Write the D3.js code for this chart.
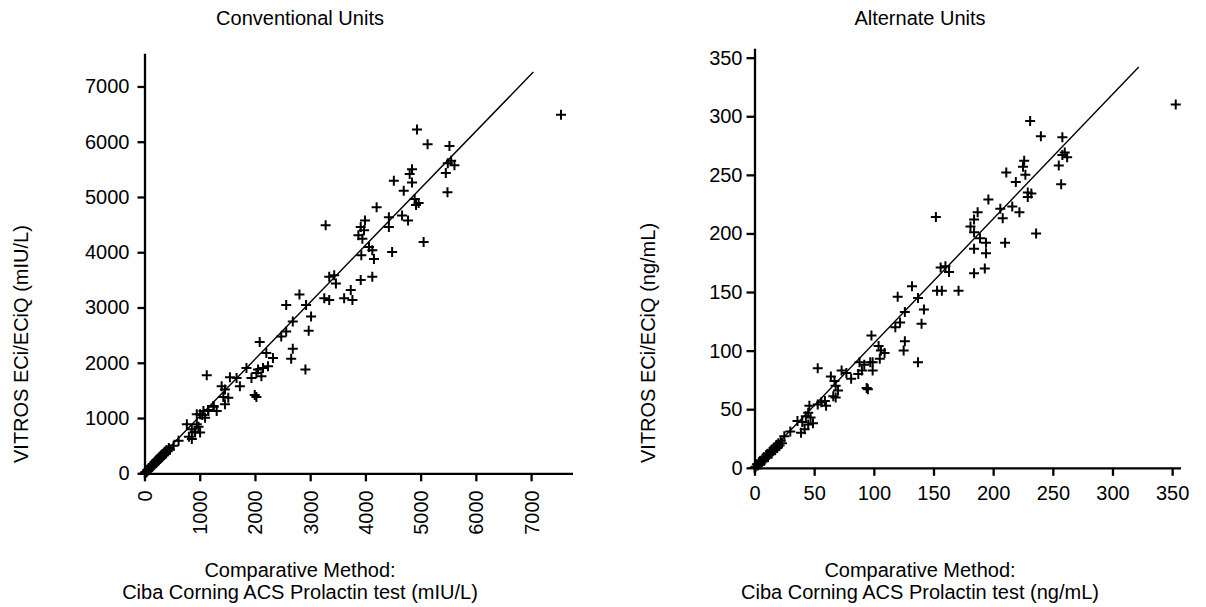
<!DOCTYPE html>
<html>
<head>
<meta charset="utf-8">
<script src="https://cdn.jsdelivr.net/npm/d3@7"></script>
<style>
  body { margin: 0; background: #fff; }
  text { font-family: "Liberation Sans", Arial, sans-serif; fill: #000; }
</style>
</head>
<body>
<script>
// panel titles and axis labels
const titles = ["Conventional Units", "Alternate Units"];
const yLabels = ["VITROS ECi/ECiQ (mIU/L)", "VITROS ECi/ECiQ (ng/mL)"];
const xLabelLine1 = "Comparative Method:";
const xLabels = ["Ciba Corning ACS Prolactin test (mIU/L)", "Ciba Corning ACS Prolactin test (ng/mL)"];

// tick values
const convTicks = [0, 1000, 2000, 3000, 4000, 5000, 6000, 7000];
const altTicks = [0, 50, 100, 150, 200, 250, 300, 350];

// regression line end points [comparative, vitros]
const convFit = [[0, 0], [7040, 7260]];
const altFit = [[0, 0], [322, 342]];

// points: [comparative method, VITROS]
const convPoints = [
  [7542,6488],[4934,6223],[5126,5953],[5522,5924],[5552,5655],[5612,5576],[5492,5612],[5456,5432],
  [5486,5085],[4844,5504],[4802,5414],[4844,5264],[4515,5295],[4694,5115],[4892,4964],[4916,4856],
  [4964,4892],[4203,4815],[4425,4635],[4664,4666],[4772,4576],[4425,4455],[3993,4576],[3915,4455],
  [3975,4396],[3873,4306],[3945,4245],[5054,4185],[4065,4095],[4125,4036],[4484,4005],[3926,3946],
  [4155,3879],[4125,3556],[3915,3497],[3280,4490],
  [3345,3556],[3435,3586],[3466,3435],[3735,3317],[3765,3137],[3615,3166],[3255,3166],[3345,3137],
  [2806,3237],[2566,3047],[2926,3047],[3016,2836],[2973,2579],[2685,2746],[2566,2566],[2476,2477],
  [2685,2255],[2656,2075],[2914,1878],[2086,2374],[2206,2176],[2326,2086],[2236,1937],[2146,1906],
  [2056,1878],[1846,1906],[1937,1726],[2117,1757],[2026,1816],[1727,1577],[1667,1726],[1547,1739],
  [1996,1416],[2026,1380],[1127,1775],[1397,1577],[1457,1518],[1427,1380],[1457,1248],[1517,1367],
  [1247,1218],[1157,1128],[1067,1128],[1007,1068],[947,1068],[1097,1007],[947,888],[767,888],
  [857,799],[917,738],[857,619],[1007,738],[1307,1128],[617,588],[527,498],
  [804,662],[909,752],[978,843],[1047,1054],[1150,1145],[1254,1204],
  [20,25],[40,30],[50,60],[60,45],[75,80],[80,60],[95,100],[100,85],[110,130],[120,105],
  [130,140],[140,120],[150,170],[160,150],[175,180],[180,160],[190,210],[200,185],[210,230],[220,200],
  [230,250],[240,220],[250,270],[260,240],[270,290],[280,260],[290,310],[300,280],[310,330],[320,300],
  [330,350],[340,320],[350,370],[360,340],[380,400],[390,360],[400,420],[420,400],[440,460],[460,430],
  [10,10],[30,15],[5,0]
];

const altPoints = [
  [353,310],[231,296],[240,283],[258,282],[260,269],[258,267],[262,265],[255,258],[257,242],[226,262],
  [225,257],[227,250],[211,252],[219,244],[229,235],[232,234],[229,231],[196,229],[206,221],[216,223],
  [222,218],[208,213],[152,214],[187,218],[184,212],[181,206],[184,201],[189,196],[194,192],[184,187],
  [194,183],[210,192],[236,200],[193,170],[184,166],[160,172],[156,171],[163,167],
  [153,151],[157,151],[171,151],[132,155],[120,146],[137,145],[142,135],[140,123],[126,133],[122,124],
  [118,120],[126,108],[125,100],[137,90],[98,113],[104,104],[106,100],[109,98],[105,93],[99,90],
  [99,83],[97,90],[92,88],[88,90],[90,83],[87,80],[81,76],[77,81],[73,83],[53,85],
  [94,68],[95,67],[64,78],[67,74],[68,70],[70,66],[68,60],[66,61],[59,57],[56,56],
  [60,53],[53,54],[46,53],[45,47],[43,44],[47,43],[40,39],[36,40],[45,37],[42,33],
  [39,30],[49,38],[30,31],[25,27],
  [0,0],[1,1],[2,3],[3,2],[4,5],[5,3],[5,6],[6,5],[7,8],[8,6],[8,9],[9,8],[10,11],[11,9],
  [11,12],[12,11],[13,14],[14,12],[14,15],[15,14],[16,17],[17,15],[18,19],[19,17],[20,21],[21,19],
  [22,23],[23,21]
];

const svg = d3.select("body").append("svg")
  .attr("width", 1206)
  .attr("height", 607);

const FONT = 20;

function drawPanel(p) {
  const x = d3.scaleLinear().domain(p.xDomain).range(p.xRange);
  const y = d3.scaleLinear().domain(p.yDomain).range(p.yRange);
  const g = svg.append("g");

  // axes
  const xAxis = g.append("g")
    .attr("transform", `translate(0, ${p.yRange[0]})`)
    .call(d3.axisBottom(x).tickValues(p.ticks).tickFormat(d3.format("d"))
      .tickSize(8).tickSizeOuter(0).tickPadding(p.xPad));
  const yAxis = g.append("g")
    .attr("transform", `translate(${p.xRange[0]}, 0)`)
    .call(d3.axisLeft(y).tickValues(p.ticks).tickFormat(d3.format("d"))
      .tickSize(p.yTick).tickSizeOuter(0).tickPadding(p.yPad));

  [xAxis, yAxis].forEach(a => {
    a.select(".domain").attr("stroke", "#000").attr("stroke-width", 2.3);
    a.selectAll(".tick line").attr("stroke", "#000").attr("stroke-width", 2.3);
    a.selectAll("text").attr("font-size", FONT).attr("font-family", "Liberation Sans, Arial, sans-serif").attr("fill", "#000");
  });

  if (p.rotateX) {
    xAxis.selectAll(".tick text")
      .attr("transform", "rotate(-90)")
      .attr("x", -(8 + p.xPad))
      .attr("y", 0)
      .attr("dy", "0.35em")
      .style("text-anchor", "end");
  }

  // regression line
  g.append("path")
    .datum(p.fit)
    .attr("fill", "none")
    .attr("stroke", "#000")
    .attr("stroke-width", 1.4)
    .attr("d", d3.line().x(d => x(d[0])).y(d => y(d[1])));

  // plus markers
  g.append("g").selectAll("path")
    .data(p.points)
    .join("path")
    .attr("transform", d => `translate(${x(d[0])}, ${y(d[1])})`)
    .attr("d", "M-5,0H5M0,-5V5")
    .attr("stroke", "#000")
    .attr("stroke-width", 2)
    .attr("fill", "none");

  // title
  g.append("text")
    .attr("x", p.cx).attr("y", 25)
    .attr("text-anchor", "middle")
    .attr("font-size", FONT)
    .text(p.title);

  // y label
  g.append("text")
    .attr("transform", `translate(${p.yLabelX}, 463) rotate(-90)`)
    .attr("text-anchor", "start")
    .attr("font-size", FONT)
    .text(p.yLabel);

  // x label, two lines
  g.append("text")
    .attr("x", p.cx).attr("y", 577)
    .attr("text-anchor", "middle")
    .attr("font-size", FONT)
    .text(xLabelLine1);
  g.append("text")
    .attr("x", p.cx).attr("y", 599)
    .attr("text-anchor", "middle")
    .attr("font-size", FONT)
    .text(p.xLabel);
}

drawPanel({
  xDomain: [0, 7750], xRange: [144.5, 572.5],
  yDomain: [0, 7600], yRange: [473.3, 53.3],
  ticks: convTicks, fit: convFit, points: convPoints,
  xPad: 9, yTick: 7, yPad: 8, rotateX: true,
  cx: 300, yLabelX: 28,
  title: titles[0], yLabel: yLabels[0], xLabel: xLabels[0]
});

drawPanel({
  xDomain: [0, 357], xRange: [754.5, 1180.5],
  yDomain: [0, 358], yRange: [467.8, 48.3],
  ticks: altTicks, fit: altFit, points: altPoints,
  xPad: 10, yTick: 8, yPad: 4, rotateX: false,
  cx: 920, yLabelX: 655,
  title: titles[1], yLabel: yLabels[1], xLabel: xLabels[1]
});
</script>
</body>
</html>
